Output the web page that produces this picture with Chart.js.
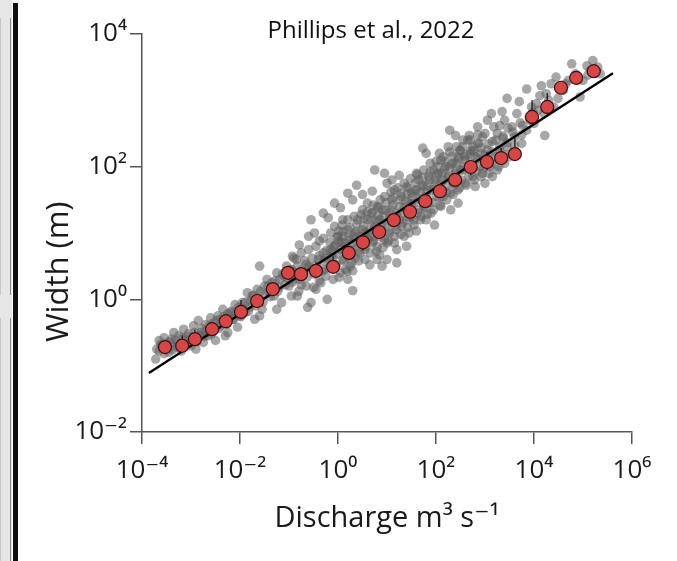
<!DOCTYPE html>
<html>
<head>
<meta charset="utf-8">
<script src="https://cdn.jsdelivr.net/npm/chart.js@4.4.1/dist/chart.umd.min.js"></script>
<style>
  body { margin: 0; overflow: hidden; background: #fff; }
  #wrap { position: relative; width: 677px; height: 561px; background: #fff; }
  #strip { position: absolute; left: 0; top: 0; width: 12px; height: 561px; background: #e6e6e6; }
  #strip .b1 { position: absolute; left: 0; top: 18px; width: 9px; height: 277px; border-right: 1px solid #8a8a8a; border-left: 1px solid #c8c8c8; }
  #strip .b2 { position: absolute; left: 0; top: 318px; width: 9px; height: 243px; border-right: 1px solid #8a8a8a; border-left: 1px solid #c8c8c8; }
  #bar { position: absolute; left: 13px; top: 3px; width: 5px; height: 558px; background: #111; }
  #title { position: absolute; left: 171px; top: 17px; width: 400px; text-align: center;
           font: 24px/24px 'Open Sans', sans-serif; color: #111; }
</style>
</head>
<body>
<div id="wrap">
  <canvas id="chart" width="677" height="561"></canvas>
  <div id="strip"><div class="b1"></div><div class="b2"></div></div>
  <div id="bar"></div>
  <div id="title">Phillips et al., 2022</div>
</div>
<script>
// all values are log10
var xTickValues = [1e-4, 1e-2, 1, 1e2, 1e4, 1e6];
var xTickLabels = ['10⁻⁴', '10⁻²', '10⁰', '10²', '10⁴', '10⁶'];
var yTickValues = [1e-2, 1, 1e2, 1e4];
var yTickLabels = ['10⁻²', '10⁰', '10²', '10⁴'];

// binned medians (red circles)
var binLogQ = [-3.53, -3.18, -2.92, -2.57, -2.29, -1.98, -1.65, -1.33, -1.02, -0.755,
  -0.45, -0.10, 0.22, 0.51, 0.84, 1.14, 1.47, 1.78, 2.08, 2.39,
  2.71, 3.04, 3.33, 3.61, 3.96, 4.27, 4.55, 4.86, 5.22];
var binLogW = [-0.72, -0.70, -0.60, -0.45, -0.33, -0.19, -0.025, 0.155, 0.40, 0.38,
  0.43, 0.49, 0.70, 0.86, 1.015, 1.195, 1.32, 1.48, 1.63, 1.80,
  1.995, 2.07, 2.13, 2.19, 2.75, 2.90, 3.19, 3.34, 3.44];
var binErrLo = [null, null, null, null, null, null, null, null, null, null,
  null, null, null, 0.74, null, null, null, null, null, null,
  1.87, 1.95, null, null, null, null, null, null, null];
var binErrHi = [null, -0.54, -0.46, null, null, -0.01, null, null, null, null,
  0.56, 0.65, null, null, null, null, null, null, null, null,
  null, 2.22, 2.28, 2.45, 3.005, 3.11, 3.28, null, null];

// power-law fit
var fitLogQ = [-3.86, 5.61];
var fitLogW = [-1.11, 3.41];

// individual gauge measurements (grey cloud), [log10 Q, log10 W]
var gaugeLog = [
  [-3.72,-0.9],[-3.7,-0.75],[-3.65,-0.62],[-3.6,-0.7],[-3.55,-0.58],[-3.55,-0.82],[-3.5,-0.66],
  [-3.45,-0.8],[-3.4,-0.6],[-3.35,-0.5],[-3.3,-0.72],[-3.25,-0.55],[-3.2,-0.78],[-3.15,-0.45],[-3.1,-0.62],[-3.05,-0.52],[-3.0,-0.7],
  [-2.95,-0.4],[-2.9,-0.58],[-2.9,-0.75],[-2.85,-0.32],[-2.8,-0.5],[-2.75,-0.65],[-2.7,-0.38],[-2.65,-0.55],[-2.6,-0.28],[-2.55,-0.48],[-2.5,-0.62],
  [-2.45,-0.25],[-2.4,-0.4],[-2.35,-0.15],[-2.3,-0.35],[-2.3,-0.55],[-2.25,-0.5],[-2.2,-0.2],[-2.15,-0.3],[-2.1,-0.08],[-2.05,-0.42],[-2.0,-0.25],
  [-1.95,-0.05],[-1.9,-0.2],[-1.85,0.1],[-1.8,-0.12],[-1.75,0.05],[-1.7,-0.3],[-1.65,0.15],[-1.6,0.0],[-1.6,0.5],[-1.6,-0.25],[-1.55,-0.15],[-1.5,0.2],
  [-1.45,0.3],[-1.4,0.1],[-1.35,0.25],[-1.3,0.05],[-1.25,0.4],[-1.25,-0.15],[-1.2,0.18],[-1.15,-0.05],[-1.1,0.35],[-1.05,0.5],[-1.0,0.2],
  [-0.93,0.65],[-0.95,0.45],[-0.9,0.3],[-0.85,0.6],[-0.83,0.05],[-0.79,0.82],[-0.75,0.22],[-0.7,0.4],[-0.65,0.53],[-0.62,-0.12],[-0.55,-0.05],[-0.55,1.2],[-0.48,1.0],[-0.38,0.28],
  [-0.45,0.15],[-0.4,0.6],[-0.38,0.88],[-0.3,0.7],[-0.28,0.45],[-0.22,0.0],[-0.2,1.23],[-0.15,0.75],[-0.1,0.63],[-0.07,1.45],[-0.07,1.1],[-0.05,0.5],[0.02,0.33],[0.02,0.88],[0.02,1.03],
  [0.05,0.75],[0.1,0.6],[0.1,0.95],[0.1,1.2],[0.15,0.45],[0.15,0.8],[0.2,1.05],[0.2,0.65],[0.2,0.3],[0.25,0.9],[0.25,0.5],[0.3,0.75],[0.3,1.5],[0.3,0.43],[0.3,0.13],[0.35,1.0],[0.35,0.62],[0.4,0.85],[0.4,1.2],[0.45,0.7],[0.45,0.95],[0.5,1.35],[0.5,0.8],
  [0.55,1.0],[0.55,0.75],[0.6,1.2],[0.6,0.9],[0.6,1.45],[0.65,1.05],[0.65,0.52],[0.7,1.3],[0.7,0.85],[0.7,1.63],[0.75,1.1],[0.75,0.95],[0.8,1.4],[0.8,0.8],[0.8,0.6],[0.85,1.2],[0.85,0.67],[0.9,1.05],[0.9,1.35],[0.95,0.9],[0.95,1.9],[1.0,1.15],[1.0,1.75],[1.0,0.85],
  [1.05,1.3],[1.05,1.0],[1.1,1.5],[1.1,1.15],[1.1,1.8],[1.15,0.85],[1.15,1.65],[1.2,1.25],[1.2,1.05],[1.2,0.75],[1.25,1.87],[1.25,1.4],[1.3,1.1],[1.3,1.55],[1.35,0.95],[1.35,1.3],[1.4,1.7],[1.4,1.2],[1.4,0.8],[1.45,1.45],[1.45,1.0],[1.5,1.6],[1.5,1.25],
  [1.55,1.45],[1.55,1.2],[1.6,1.65],[1.6,1.03],[1.6,1.9],[1.65,1.35],[1.65,1.8],[1.7,1.5],[1.7,1.25],[1.73,2.28],[1.75,1.7],[1.75,1.4],[1.8,2.2],[1.8,1.55],[1.8,1.2],[1.85,1.85],[1.85,1.45],[1.9,1.65],[1.9,1.3],[1.95,1.95],[1.97,1.12],[2.0,1.55],[2.0,1.75],
  [2.05,1.9],[2.05,1.6],[2.07,2.2],[2.1,2.1],[2.1,1.4],[2.15,1.8],[2.15,1.55],[2.2,2.0],[2.2,1.7],[2.25,2.3],[2.25,1.85],[2.28,2.55],[2.3,1.6],[2.3,1.35],[2.35,2.05],[2.35,1.75],[2.4,2.47],[2.4,1.9],[2.45,2.15],[2.45,1.65],[2.45,1.45],[2.5,1.95],[2.5,2.25],
  [2.55,2.3],[2.55,1.95],[2.6,2.1],[2.6,1.75],[2.65,2.4],[2.68,2.47],[2.7,2.0],[2.7,2.2],[2.75,1.85],[2.75,2.3],[2.8,2.15],[2.8,1.7],[2.85,2.35],[2.85,2.6],[2.9,2.0],[2.9,2.2],[2.95,1.9],[2.95,2.45],[3.0,2.1],[3.0,1.75],
  [3.05,2.7],[3.05,2.25],[3.1,2.0],[3.13,2.8],[3.15,2.38],[3.15,1.85],[3.2,2.15],[3.25,2.5],[3.25,1.95],[3.3,2.62],[3.3,2.25],[3.35,2.83],[3.37,2.43],[3.4,2.05],[3.45,3.03],[3.45,2.3],[3.47,2.58],[3.5,2.15],
  [3.55,2.6],[3.6,2.2],[3.6,2.45],[3.65,2.8],[3.7,2.98],[3.75,2.35],[3.77,2.62],[3.85,2.55],[3.85,3.17],[3.9,2.75],[3.95,2.9],[4.0,2.65],
  [4.05,2.95],[4.12,3.07],[4.15,3.22],[4.2,2.8],[4.22,2.47],[4.3,3.0],[4.35,3.25],[4.4,2.9],[4.49,3.03],[4.45,3.35],
  [4.6,3.15],[4.7,3.3],[4.77,3.55],[4.85,3.4],[4.94,3.05],[5.0,3.3],[5.08,3.52],[5.15,3.45],[5.2,3.6],[5.3,3.5],[5.35,3.4]
];

// the dense core of the cloud, [log10 Q, log10 W]
var gaugeCoreLog = [
  [-3.65,-0.78],[-3.62,-0.68],[-3.47,-0.72],[-3.42,-0.64],[-3.38,-0.76],[-3.32,-0.62],[-3.28,-0.7],
  [-3.22,-0.66],[-3.18,-0.58],[-3.14,-0.72],[-3.08,-0.56],[-3.03,-0.66],[-2.98,-0.6],
  [-2.93,-0.5],[-2.88,-0.64],[-2.83,-0.55],[-2.78,-0.44],[-2.73,-0.56],[-2.7,-0.48],
  [-2.63,-0.4],[-2.58,-0.52],[-2.55,-0.36],[-2.48,-0.32],[-2.43,-0.44],[-2.4,-0.3],
  [-2.33,-0.26],[-2.28,-0.38],[-2.25,-0.22],[-2.18,-0.18],[-2.13,-0.3],[-2.08,-0.2],
  [-2.03,-0.12],[-1.98,-0.26],[-1.94,-0.14],[-1.88,-0.04],[-1.83,-0.18],[-1.79,-0.02],
  [-1.73,0.06],[-1.68,-0.1],[-1.64,0.02],[-1.58,0.12],[-1.53,-0.04],[-1.49,0.08],
  [-1.43,0.2],[-1.38,0.04],[-1.34,0.16],[-1.28,0.28],[-1.23,0.12],[-1.19,0.3],
  [-1.13,0.38],[-1.08,0.22],[-1.04,0.32],[-0.98,0.44],[-0.93,0.26],[-0.88,0.4],
  [-0.83,0.5],[-0.78,0.3],[-0.73,0.44],[-0.68,0.58],[-0.63,0.34],[-0.58,0.48],
  [-0.53,0.62],[-0.48,0.38],[-0.44,0.52],[-0.38,0.66],[-0.33,0.42],[-0.29,0.58],
  [-0.23,0.74],[-0.18,0.48],[-0.14,0.64],[-0.16,0.86],[-0.08,0.8],[-0.03,0.52],[0.0,0.68],[-0.02,0.94],
  [0.07,0.86],[0.12,0.58],[0.15,0.74],[0.1,1.02],[0.22,0.94],[0.27,0.66],[0.3,0.84],[0.24,1.08],
  [0.37,1.02],[0.42,0.72],[0.45,0.9],[0.38,1.14],[0.52,1.1],[0.57,0.8],[0.6,1.0],[0.53,1.22],
  [0.67,1.18],[0.72,0.88],[0.75,1.06],[0.68,1.3],[0.82,1.26],[0.87,0.94],[0.9,1.14],[0.83,1.38],
  [0.97,1.34],[1.02,1.02],[1.05,1.22],[0.98,1.46],[1.12,1.42],[1.17,1.1],[1.2,1.3],[1.13,1.54],
  [1.27,1.5],[1.32,1.16],[1.35,1.38],[1.28,1.6],[1.42,1.58],[1.47,1.24],[1.5,1.44],[1.43,1.68],
  [1.57,1.64],[1.62,1.3],[1.65,1.52],[1.58,1.76],[1.72,1.72],[1.77,1.38],[1.8,1.6],[1.73,1.84],
  [1.87,1.8],[1.92,1.46],[1.95,1.66],[1.88,1.92],[2.02,1.88],[2.07,1.54],[2.1,1.76],[2.03,2.0],
  [2.17,1.96],[2.22,1.62],[2.25,1.84],[2.18,2.08],[2.32,2.04],[2.37,1.72],[2.4,1.92],[2.33,2.16],
  [2.47,2.12],[2.52,1.8],[2.55,2.0],[2.48,2.24],[2.62,2.18],[2.67,1.86],[2.7,2.06],
  [2.77,2.24],[2.82,1.92],[2.85,2.12],[2.92,2.28],[2.97,1.98],[3.0,2.18],
  [3.07,2.34],[3.12,2.04],[3.15,2.22],[3.22,2.4],[3.27,2.1],[3.3,2.3],
  [3.37,2.46],[3.42,2.18],[3.45,2.36],[3.57,2.52],[3.6,2.32],[3.72,2.66],[3.75,2.48],
  [3.92,2.7],[3.98,2.82],[4.08,2.85],[4.25,3.1],[4.65,3.25],[4.9,3.3],[5.1,3.38]
];

// outer edges of the central band plus loose points above and below it
var gaugeEdgeLog = [
  [-0.95,0.05],[-0.9,0.62],[-0.8,0.12],[-0.75,0.7],[-0.65,0.2],[-0.6,0.75],[-0.5,0.18],[-0.45,0.8],
  [-0.35,0.25],[-0.3,0.92],[-0.25,0.35],[-0.15,1.0],[-0.1,0.3],[-0.05,0.82],[0.05,0.4],[0.08,1.12],
  [0.18,0.42],[0.2,1.2],[0.28,0.55],[0.33,1.25],[0.42,0.58],[0.47,1.28],[0.55,0.6],[0.6,1.32],
  [0.66,0.7],[0.72,1.42],[0.78,0.72],[0.86,1.5],[0.92,0.78],[0.95,1.55],[1.03,0.88],[1.08,1.62],
  [1.15,0.95],[1.22,1.68],[1.28,0.98],[1.35,1.75],[1.42,1.08],[1.48,1.82],[1.55,1.12],[1.62,1.88],
  [1.68,1.2],[1.75,1.95],[1.82,1.28],[1.88,2.05],[1.95,1.35],[2.0,2.08],[2.08,1.42],[2.15,2.15],
  [2.22,1.5],[2.28,2.22],[2.35,1.58],[2.42,2.3],[2.48,1.68],[2.55,2.4],[2.62,1.72],[2.7,2.4],
  [2.78,1.8],[2.85,2.48],[2.92,1.85],[3.0,2.5],[3.08,1.9],[3.18,2.6],[3.28,2.0],[3.4,2.7],
  [0.12,0.85],[0.32,0.95],[0.5,1.05],[0.62,0.92],[0.78,1.18],[0.92,1.25],[1.08,1.35],[1.25,1.2],
  [1.38,1.48],[1.52,1.55],[1.68,1.62],[1.82,1.72],[1.98,1.8],[2.12,1.9],[2.28,1.98],[2.42,2.05],
  [2.58,2.15],[2.72,2.25],[2.88,2.35],[-0.25,0.62],[-0.42,0.42],[-0.6,0.5],[-0.12,0.72],[0.0,0.95],
  [0.2,1.6],[0.38,1.72],[0.5,1.58],[0.75,1.95],[-0.6,0.95],[-0.3,1.3],[0.05,1.38],
  [1.0,0.6],[1.2,0.55],[0.9,0.5]
];

var pow10 = function(v){ return Math.pow(10, v); };
var toPt = function(p){ return {x: pow10(p[0]), y: pow10(p[1])}; };

var gaugePts = gaugeLog.concat(gaugeCoreLog, gaugeEdgeLog).map(toPt);
var binPts = binLogQ.map(function(q, i){ return {x: pow10(q), y: pow10(binLogW[i])}; });
var fitPts = fitLogQ.map(function(q, i){ return {x: pow10(q), y: pow10(fitLogW[i])}; });

// error bars, drawn right after the grey cloud so circles sit on top
var errorBars = {
  id: 'errorBars',
  afterDatasetDraw: function(chart, args){
    if (args.index !== 2) return;
    var ctx = chart.ctx, xs = chart.scales.x, ys = chart.scales.y;
    ctx.save();
    ctx.strokeStyle = '#111';
    ctx.lineWidth = 1.2;
    for (var i = 0; i < binLogQ.length; i++) {
      if (binErrLo[i] === null && binErrHi[i] === null) continue;
      var px = xs.getPixelForValue(pow10(binLogQ[i]));
      var lo = binErrLo[i] === null ? binLogW[i] : binErrLo[i];
      var hi = binErrHi[i] === null ? binLogW[i] : binErrHi[i];
      ctx.beginPath();
      ctx.moveTo(px, ys.getPixelForValue(pow10(lo)));
      ctx.lineTo(px, ys.getPixelForValue(pow10(hi)));
      ctx.stroke();
    }
    ctx.restore();
  }
};

Chart.defaults.font.family = "'Open Sans', 'DejaVu Sans', sans-serif";
Chart.defaults.color = '#1a1a1a';

var axisColor = '#555';

var chart = new Chart(document.getElementById('chart'), {
  type: 'scatter',
  data: {
    datasets: [
      {
        label: 'Binned', data: binPts, order: 0,
        pointRadius: 6.5, pointHoverRadius: 6.5,
        backgroundColor: '#d64646', borderColor: '#3b1212', borderWidth: 1.2
      },
      {
        type: 'line', label: 'Fit', data: fitPts, order: 1,
        borderColor: '#000', borderWidth: 2.4, pointRadius: 0, fill: false, tension: 0
      },
      {
        label: 'Gauges', data: gaugePts, order: 2,
        pointRadius: 4.8, pointHoverRadius: 4.8,
        backgroundColor: 'rgba(95,95,95,0.55)', borderWidth: 0
      }
    ]
  },
  options: {
    responsive: false,
    animation: false,
    layout: { padding: { left: 0, top: 34, right: 45, bottom: 0 } },
    plugins: { legend: { display: false }, tooltip: { enabled: false } },
    scales: {
      x: {
        type: 'logarithmic', min: 1e-4, max: 1e6,
        afterBuildTicks: function(s){ s.ticks = xTickValues.map(function(v){ return {value: v}; }); },
        afterFit: function(s){ s.height = 129; },
        ticks: {
          autoSkip: false, maxRotation: 0, padding: 11,
          font: { size: 26 }, color: '#1a1a1a',
          callback: function(v, i){ return xTickLabels[i]; }
        },
        grid: { drawOnChartArea: false, tickLength: 12, color: axisColor, lineWidth: 1.5 },
        border: { color: axisColor, width: 1.5 },
        title: { display: true, text: 'Discharge m³ s⁻¹', font: { size: 29 }, color: '#1a1a1a',
                 padding: { top: 0, bottom: 25 } }
      },
      y: {
        type: 'logarithmic', min: 1e-2, max: 1e4,
        afterBuildTicks: function(s){ s.ticks = yTickValues.map(function(v){ return {value: v}; }); },
        afterFit: function(s){ s.width = 142; },
        ticks: {
          autoSkip: false, padding: 3,
          font: { size: 26 }, color: '#1a1a1a',
          callback: function(v, i){ return yTickLabels[i]; }
        },
        grid: { drawOnChartArea: false, tickLength: 12, color: axisColor, lineWidth: 1.5 },
        border: { color: axisColor, width: 1.5 },
        title: { display: true, text: 'Width (m)\u2003\u2003\u2002', font: { size: 31 }, color: '#1a1a1a',
                 padding: { top: 41, bottom: 0 } }
      }
    }
  },
  plugins: [errorBars]
});
</script>
</body>
</html>
